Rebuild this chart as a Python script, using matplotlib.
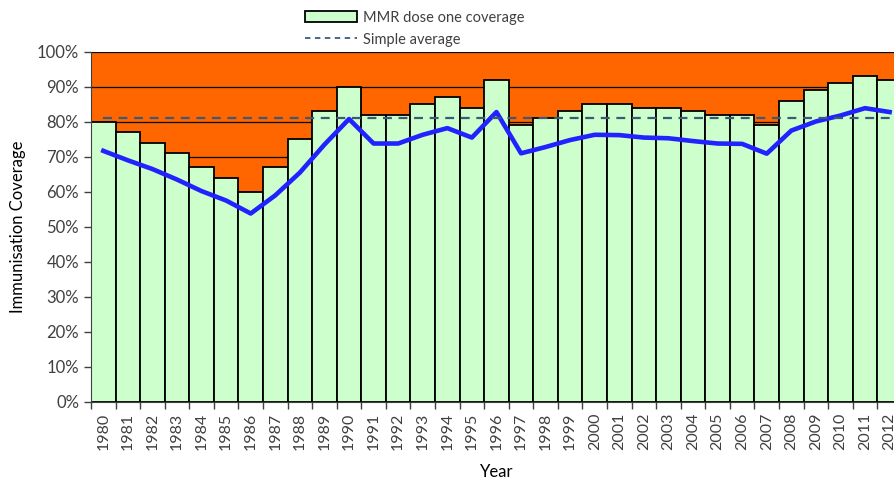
import numpy as np
import matplotlib.pyplot as plt
from matplotlib.patches import Patch
from matplotlib.lines import Line2D

# Data
years = list(range(1980, 2013))
coverage = [80, 77, 74, 71, 67, 64, 60, 67, 75, 83,
            90, 82, 82, 85, 87, 84, 92, 79, 81, 83,
            85, 85, 84, 84, 83, 82, 82, 79, 86, 89,
            91, 93, 92]
trend = [71.7, 69.0, 66.5, 63.5, 60.2, 57.5, 53.8, 59.0, 65.5, 73.5,
         80.8, 73.8, 73.8, 76.3, 78.2, 75.5, 82.8, 71.0, 72.8, 74.8,
         76.3, 76.2, 75.5, 75.3, 74.5, 73.8, 73.7, 70.9, 77.5, 80.1,
         81.8, 83.9, 82.8]
average = np.mean(coverage)

plt.rcParams['font.family'] = ['Lato', 'DejaVu Sans']
txt = '#404040'

fig = plt.figure(figsize=(8.95, 4.80), dpi=100)
ax = fig.add_axes([0.1017, 0.163, 0.906, 0.729])
ax.set_facecolor('#FF6600')

x = np.arange(len(years))
ax.set_axisbelow(True)
ax.yaxis.grid(True, color='black', linewidth=0.9)
ax.bar(x, coverage, width=1.0, color='#CCFFCC', edgecolor='black', linewidth=1.3, zorder=2)
ax.plot(x, trend, color='#2222FF', linewidth=3.3, zorder=3)
# simple average drawn from first to last year
ax.plot(x, [average] * len(x), color='#3A5A7A', linestyle=(0, (4, 3)), linewidth=1.6, zorder=4)

ax.set_xlim(-0.5, len(years) - 0.5)
ax.set_ylim(0, 100)
ax.set_yticks(range(0, 101, 10))
ax.set_yticklabels([f'{v}%' for v in range(0, 101, 10)], fontsize=12, color=txt)
ax.set_xticks(x)
ax.set_xticklabels([str(y) for y in years], rotation=90, fontsize=11.5, color=txt)
ax.set_xticks(x - 0.5, minor=True)
ax.tick_params(axis='x', which='major', length=0, pad=8)
ax.tick_params(axis='x', which='minor', length=5, width=1, color='#404040')
ax.tick_params(axis='y', length=5, width=1, color='#404040')
for s in ['top', 'right']:
    ax.spines[s].set_visible(False)
for s in ['left', 'bottom']:
    ax.spines[s].set_color('#404040')

ax.set_xlabel('Year', fontsize=12, color='black', labelpad=10)
ax.set_ylabel('Immunisation Coverage', fontsize=12, color='black', labelpad=8)

handles = [Patch(facecolor='#CCFFCC', edgecolor='black', linewidth=1.3),
           Line2D([0], [0], color='#3A5A7A', linestyle=(0, (3, 2.5)), linewidth=1.3)]
fig.legend(handles, ['MMR dose one coverage', 'Simple average'],
           loc='upper left', bbox_to_anchor=(0.326, 1.005), frameon=False,
           fontsize=10.5, handlelength=3.6, handleheight=0.8, labelspacing=0.55,
           handletextpad=0.4, labelcolor=txt)

fig.savefig('out.png', dpi=100)
